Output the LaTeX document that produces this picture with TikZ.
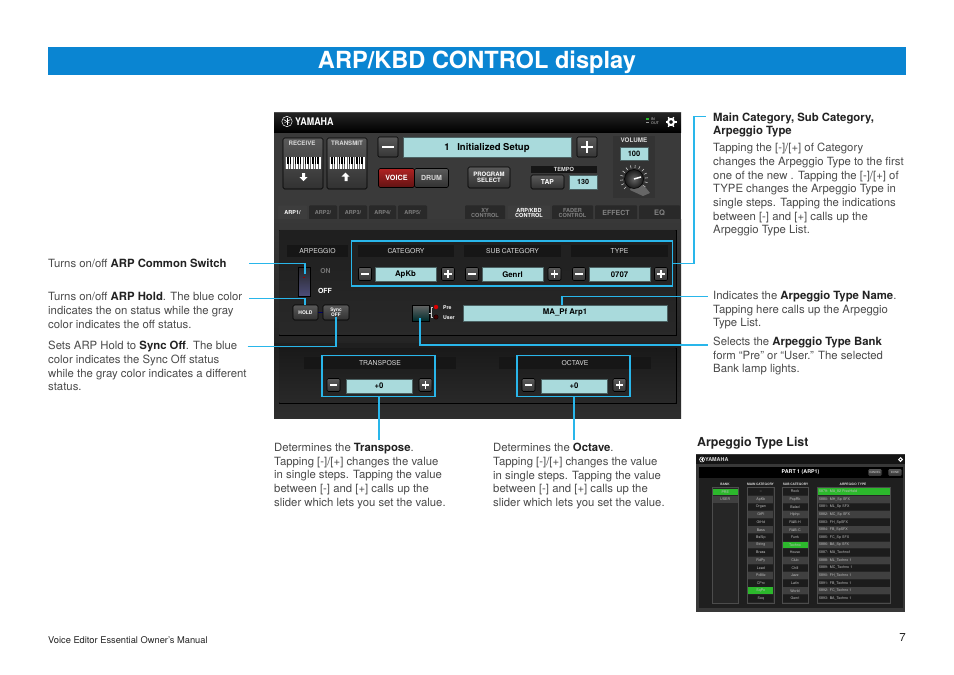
\documentclass[tikz,border=0pt]{standalone}
\usepackage{fontspec}
\usepackage{graphicx}
\setmainfont{TeX Gyre Heros}
\usetikzlibrary{calc}
\definecolor{yblue}{HTML}{0A85D2}
\definecolor{lead}{HTML}{29B6EA}
\definecolor{bodytxt}{HTML}{4A4A4A}
\definecolor{boldtxt}{HTML}{222222}
\definecolor{lcd}{HTML}{A9DADC}
\definecolor{panelg}{HTML}{3A3A3A}
\definecolor{inner}{HTML}{252525}
\definecolor{strip}{HTML}{161616}
\definecolor{uitxt}{HTML}{D8D8D8}
\definecolor{green1}{HTML}{2CB82C}
\definecolor{B}{HTML}{5A5A5A}
\definecolor{VR}{HTML}{B02222}
\definecolor{zebA}{HTML}{1C1C1C}
\definecolor{zebB}{HTML}{404040}
\tikzset{
 x=1pt,y=-1pt,
 note/.style={anchor=north west,inner sep=0pt,align=left,text=bodytxt,font=\fontsize{11.35}{13.7}\selectfont},
 leadline/.style={draw=lead,line width=1.25pt,line join=miter},
 frame/.style={draw=lead,line width=1.25pt,fill=none},
 btn/.style={draw=black,line width=.6pt,rounded corners=1.5pt,top color=#1,bottom color=#1!55!black,text=white,inner sep=0pt,align=center},
 btn/.default={B},
 lcdbox/.style={draw=lcd!45!black,line width=.8pt,fill=lcd,text=black,inner sep=0pt,font=\bfseries\fontsize{7.8}{9}\selectfont},
 striplab/.style={fill=strip,text=uitxt,inner sep=0pt,font=\fontsize{6.8}{7}\selectfont},
 uilab/.style={inner sep=0pt,text=uitxt},
 tab/.style={fill=#1,inner sep=0pt,rounded corners=1pt,align=center,font=\bfseries\fontsize{5.6}{5}\selectfont},
 cell/.style={fill=#1,inner sep=0pt,text=white!75!black,minimum height=6.8pt,font=\fontsize{3.6}{3.8}\selectfont},
}
% minus / plus button: name, cx, cy, size
\newcommand{\minusbtn}[4]{\node[draw=black,line width=.6pt,rounded corners=1.2pt,top color=B,bottom color=B!60!black,minimum width=#4pt,minimum height=#4pt,inner sep=0pt] (#1) at (#2,#3) {};
 \fill[white] ($(#1)+(-#4*.3,-#4*.07)$) rectangle ($(#1)+(#4*.3,#4*.07)$);}
\newcommand{\plusbtn}[4]{\node[draw=black,line width=.6pt,rounded corners=1.2pt,top color=B,bottom color=B!60!black,minimum width=#4pt,minimum height=#4pt,inner sep=0pt] (#1) at (#2,#3) {};
 \fill[white] ($(#1)+(-#4*.3,-#4*.07)$) rectangle ($(#1)+(#4*.3,#4*.07)$);
 \fill[white] ($(#1)+(-#4*.07,-#4*.3)$) rectangle ($(#1)+(#4*.07,#4*.3)$);}
% keyboard strip: left x, top y
\newcommand{\keys}[2]{\fill[white] (#1,#2) rectangle ++(35,12);
 \foreach \k in {0,...,13}{\draw[black!60,line width=.3pt] (#1+2.5*\k,#2) -- ++(0,12);}
 \foreach \k in {1,2,4,5,6,8,9,11,12,13}{\fill[black] (#1+2.5*\k-.8,#2) rectangle ++(1.6,7);}}
% yamaha emblem
\newcommand{\emblem}[3]{\draw[white,line width=.5pt] (#1,#2) circle (#3);
 \foreach \a in {90,210,330}{\draw[white,line width=.6pt] (#1,#2) -- ++(\a:#3*.75);}
 \foreach \a in {30,150,270}{\draw[white,line width=.3pt] (#1,#2) -- ++(\a:#3*.6);}}
\begin{document}
\begin{tikzpicture}
\useasboundingbox (0,0) rectangle (954,675);
\fill[white] (0,0) rectangle (954,675);
% title bar
\node[fill=yblue,minimum width=858pt,minimum height=28pt,inner sep=0pt,anchor=north west,text=white] (title) at (48,47) {};
\node[text=white,inner sep=0pt,font=\bfseries\fontsize{23.6}{26}\selectfont] (titletext) at (477,62.3) {ARP/KBD CONTROL display};
% ---------- main screenshot
\fill[panelg] (274,112) rectangle (681,418);
\shade[top color=black!85,bottom color=black] (274,112) rectangle (681,132);
\fill[white!30!black] (274,112) rectangle (681,113);
\emblem{287}{121.5}{5.2}
\node[uilab,text=white,font=\bfseries\fontsize{10.5}{11}\selectfont,anchor=west] (ylogo) at (295,122) {\scalebox{.85}[1]{YAMAHA}};
\fill[green1] (646,118) rectangle (649,120);
\fill[white!60!black] (646,122) rectangle (649,123);
\node[uilab,font=\fontsize{3.6}{3}\selectfont,anchor=west] (inlab) at (651,119) {IN};
\node[uilab,font=\fontsize{3.6}{3}\selectfont,anchor=west] (outlab) at (651,123) {OUT};
\draw[white,line width=2pt] (671,122) circle (3);
\foreach \a in {0,60,...,300}{\draw[white,line width=1.4pt] (671,122) ++(\a:3.5) -- ++(\a:2);}
% receive / transmit
\node[btn,minimum width=40pt,minimum height=51pt] (receive) at (303,163.5) {};
\node[btn,minimum width=40pt,minimum height=51pt] (transmit) at (347,163.5) {};
\node[uilab,font=\bfseries\fontsize{6.1}{6}\selectfont] (rlab) at (302,143.5) {RECEIVE};
\node[uilab,font=\bfseries\fontsize{6.1}{6}\selectfont] (tlab) at (347,143.5) {TRANSMIT};
\keys{285.5}{157}
\keys{329.5}{157}
\fill[white] (302,173) rectangle (305,177) (299.5,177) -- (307.5,177) -- (303.5,181) -- cycle;
\fill[white] (344.5,176.5) rectangle (347.5,181) (341.5,176.5) -- (349.5,176.5) -- (345.5,172.5) -- cycle;
% program
\minusbtn{pminus}{388}{147}{20}
\node[lcdbox,minimum width=168pt,minimum height=20pt,font=\bfseries\fontsize{9.5}{10}\selectfont] (pname) at (487,147.5) {1\hspace{.8em}Initialized Setup};
\plusbtn{pplus}{587}{147}{20}
% voice / drum
\node[btn=VR,minimum width=36pt,minimum height=19pt,font=\bfseries\fontsize{7.2}{8}\selectfont] (voice) at (396.5,178) {VOICE};
\node[btn,minimum width=34pt,minimum height=19pt,font=\bfseries\fontsize{7}{8}\selectfont,text=uitxt] (drum) at (431.5,178) {DRUM};
\node[btn,minimum width=42pt,minimum height=21pt,font=\bfseries\fontsize{6}{6.2}\selectfont] (psel) at (489,177.5) {PROGRAM\\SELECT};
% tempo
\node[striplab,font=\bfseries\fontsize{5.7}{6}\selectfont,minimum width=66pt,minimum height=7pt] (tempo) at (564,169) {TEMPO};
\node[btn,minimum width=33pt,minimum height=14pt,font=\bfseries\fontsize{6.8}{7}\selectfont] (tap) at (547.5,182) {TAP};
\node[lcdbox,minimum width=28pt,minimum height=14pt,font=\bfseries\fontsize{7.2}{8}\selectfont] (tempov) at (583,182) {130};
% volume
\fill[black!80] (613,136) rectangle (655,198);
\node[uilab,font=\bfseries\fontsize{6.3}{6.5}\selectfont] (vollab) at (634,140.5) {VOLUME};
\node[lcdbox,minimum width=28pt,minimum height=13pt,font=\bfseries\fontsize{7.5}{8}\selectfont] (volv) at (634,154) {100};
\foreach \a in {-225,-205,...,45}{\draw[white!80!black,line width=.6pt] (634,179) ++(\a:11) -- ++(\a:3);}
\fill[black!60] (634,179) -- (646,188) -- (650,193) -- (643,196) -- (630,190) -- cycle;
\node[circle,draw=black,line width=.5pt,inner color=black!60,outer color=black!90,minimum size=19pt,inner sep=0pt] (knob) at (634,179) {};
\draw[white,line width=1.5pt] (634,179) -- (641,177);
% tabs
\foreach \n/\xa/\w/\cc in {a1/292.5/29/black!76,a2/323/28/black!84,a3/353/28/black!84,a4/382.5/27/black!84,a5/412.5/29/black!84}{
 \node[tab=\cc,minimum width=\w pt,minimum height=14.5pt] (tab\n) at (\xa,212.5) {};}
\node[uilab,text=white,font=\bfseries\fontsize{5.5}{5}\selectfont] (t1) at (292.5,212.5) {ARP1/};
\node[uilab,text=black!50,font=\bfseries\fontsize{5.5}{5}\selectfont] (t2) at (323,212.5) {ARP2/};
\node[uilab,text=black!50,font=\bfseries\fontsize{5.5}{5}\selectfont] (t3) at (353,212.5) {ARP3/};
\node[uilab,text=black!50,font=\bfseries\fontsize{5.5}{5}\selectfont] (t4) at (382.5,212.5) {ARP4/};
\node[uilab,text=black!50,font=\bfseries\fontsize{5.5}{5}\selectfont] (t5) at (412.5,212.5) {ARP5/};
\node[tab=black!84,text=black!50,minimum width=40pt,minimum height=14.5pt] (txy) at (485,212.5) {XY\\CONTROL};
\node[tab=black!76,text=white,minimum width=42pt,minimum height=14.5pt] (tkbd) at (529,212.5) {ARP/KBD\\CONTROL};
\node[tab=black!84,text=black!50,minimum width=41pt,minimum height=14.5pt] (tfad) at (572.5,212.5) {FADER\\CONTROL};
\node[tab=black!84,text=black!50,minimum width=42pt,minimum height=14.5pt,font=\bfseries\fontsize{7}{7}\selectfont] (teff) at (616,212.5) {EFFECT};
\node[tab=black!84,text=black!50,minimum width=41pt,minimum height=14.5pt,font=\bfseries\fontsize{7.5}{7}\selectfont] (teq) at (659.5,212.5) {EQ};
% arp area
\shade[top color=black!78,bottom color=black!86] (274,219) rectangle (681,345);
\draw[black,line width=.5pt,fill=inner] (279,230) rectangle (676,335);
\shade[top color=black!88,bottom color=black!84] (279.3,230.3) rectangle (675.7,334.7);
\shade[top color=black!88,bottom color=black!82] (274,343) rectangle (681,418);
\draw[black,line width=.5pt,fill=strip] (279,348) rectangle (676,403);
\shade[top color=black!90,bottom color=black!84] (279.3,348.3) rectangle (675.7,402.7);
% strips
\node[striplab,minimum width=61pt,minimum height=12pt] (arplab) at (317.5,251) {ARPEGGIO};
\node[striplab,minimum width=96pt,minimum height=12pt] (catlab) at (406,251) {CATEGORY};
\node[striplab,minimum width=97pt,minimum height=12pt] (sublab) at (512.5,251) {SUB CATEGORY};
\node[striplab,minimum width=97pt,minimum height=12pt] (typlab) at (619.5,251) {TYPE};
% category row
\minusbtn{cm}{365}{274}{13}
\node[lcdbox,minimum width=61pt,minimum height=14pt] (catv) at (405.5,274.5) {ApKb};
\plusbtn{cp}{448}{274}{13}
\minusbtn{sm}{472}{274}{13}
\node[lcdbox,minimum width=61pt,minimum height=14pt] (subv) at (512.5,274.5) {Genrl};
\plusbtn{sp}{554.5}{274}{13}
\minusbtn{tm}{579}{274}{13}
\node[lcdbox,minimum width=61pt,minimum height=14pt] (typv) at (619.5,274.5) {0707};
\plusbtn{tp}{661}{274}{13}
% toggle
\node[draw=black,line width=1pt,top color=black!85,bottom color=blue!25!black!70,minimum width=12pt,minimum height=29pt,inner sep=0pt] (toggle) at (304,281.5) {};
\fill[red!60!black] (303.3,276.5) rectangle (305,277.5);
\node[uilab,text=black!55,font=\bfseries\fontsize{6.8}{7}\selectfont] (onlab) at (325.5,271.5) {ON};
\node[uilab,text=white,font=\bfseries\fontsize{7}{7}\selectfont] (offlab) at (325,291) {OFF};
% hold sync
\draw[blue!40!black,line width=.8pt] (318,312.5) -- (323,312.5);
\node[btn,minimum width=25pt,minimum height=15pt,font=\bfseries\fontsize{5}{5}\selectfont] (hold) at (305.5,312.5) {HOLD};
\node[btn,minimum width=26pt,minimum height=15pt,font=\bfseries\fontsize{4.8}{5}\selectfont] (sync) at (336,312.5) {Sync\\OFF};
% bank
\node[draw=black,line width=1pt,top color=black!60,bottom color=teal!35!black,minimum width=17pt,minimum height=16pt,inner sep=0pt] (bank) at (420.5,313) {};
\draw[white!80!black,line width=.4pt] (429,313) -- (431,313) (431,307) -- (431,317) (431,307) -- (433,307) (431,317) -- (433,317);
\node[circle,fill=red!85!black,minimum size=4.5pt,inner sep=0pt] (prelamp) at (436,307) {};
\node[circle,fill=red!25!black,draw=black,line width=.3pt,minimum size=4.5pt,inner sep=0pt] (userlamp) at (436,317) {};
\node[uilab,text=white,anchor=west,font=\bfseries\fontsize{5.2}{5}\selectfont] (prelab) at (443,307.5) {Pre};
\node[uilab,text=white,anchor=west,font=\bfseries\fontsize{5.2}{5}\selectfont] (userlab) at (443,317.5) {User};
\node[lcdbox,minimum width=204pt,minimum height=16pt] (namev) at (565,313) {MA\_Pf Arp1};
% transpose / octave
\node[striplab,minimum width=152pt,minimum height=11.5pt] (trlab) at (380,363) {TRANSPOSE};
\node[striplab,minimum width=152pt,minimum height=11.5pt] (oclab) at (575,363) {OCTAVE};
\minusbtn{trm}{333.5}{385}{13}
\node[lcdbox,minimum width=66pt,minimum height=14pt] (trv) at (379,386) {+0};
\plusbtn{trp}{425.5}{385}{13}
\minusbtn{ocm}{528.5}{385}{13}
\node[lcdbox,minimum width=66pt,minimum height=14pt] (ocv) at (574,386) {+0};
\plusbtn{ocp}{619.5}{385}{13}
% highlight frames
\node[frame,minimum width=321.5pt,minimum height=45pt,inner sep=0pt] (fcat) at (512,263.5) {};
\node[frame,minimum width=113pt,minimum height=41pt,inner sep=0pt] (ftr) at (378.5,376.3) {};
\node[frame,minimum width=113pt,minimum height=41pt,inner sep=0pt] (foc) at (573.5,376.3) {};
% ---------- notes
\node[note] (n1) at (48,258.7) {Turns on/off {\color{boldtxt}\bfseries ARP Common Switch}};
\node[note] (n2) at (48,292.3) {Turns on/off {\color{boldtxt}\bfseries ARP Hold}. The blue color\\indicates the on status while the gray\\color indicates the off status.};
\node[note] (n3) at (48,341) {Sets ARP Hold to {\color{boldtxt}\bfseries Sync Off}. The blue\\color indicates the Sync Off status\\while the gray color indicates a different\\status.};
\node[note,text=boldtxt,font=\bfseries\fontsize{11.35}{13.7}\selectfont] (n4h) at (713,112.5) {Main Category, Sub Category,\\Arpeggio Type};
\node[note] (n4) at (713,143) {Tapping the [-]/[+] of Category\\changes the Arpeggio Type to the first\\one of the new . Tapping the [-]/[+] of\\TYPE changes the Arpeggio Type in\\single steps. Tapping the indications\\between [-] and [+] calls up the\\Arpeggio Type List.};
\node[note] (n5) at (713,290.8) {Indicates the {\color{boldtxt}\bfseries Arpeggio Type Name}.\\Tapping here calls up the Arpeggio\\Type List.};
\node[note] (n6) at (713,336.8) {Selects the {\color{boldtxt}\bfseries Arpeggio Type Bank}\\form “Pre” or “User.” The selected\\Bank lamp lights.};
\node[note] (n7) at (274,443) {Determines the {\color{boldtxt}\bfseries Transpose}.\\Tapping [-]/[+] changes the value\\in single steps. Tapping the value\\between [-] and [+] calls up the\\slider which lets you set the value.};
\node[note] (n8) at (493,443) {Determines the {\color{boldtxt}\bfseries Octave}.\\Tapping [-]/[+] changes the value\\in single steps. Tapping the value\\between [-] and [+] calls up the\\slider which lets you set the value.};
\node[note,text=boldtxt,font=\bfseries\fontsize{12.4}{13}\selectfont] (listh) at (697,437.5) {Arpeggio Type List};
\node[note,text=boldtxt,font=\fontsize{9.3}{10}\selectfont] (foot) at (48,636) {Voice Editor Essential Owner’s Manual};
\node[note,text=boldtxt,font=\fontsize{11.5}{13}\selectfont,anchor=north east] (page) at (906,633) {7};
% ---------- connectors
\coordinate (c1) at (249,263.5);
\coordinate (c2) at (249,298.2);
\coordinate (c3) at (247.5,346.5);
\coordinate (c4) at (706,116.5);
\coordinate (c4b) at (694,116.5);
\coordinate (c5) at (707.5,296.5);
\coordinate (c6) at (707.5,345);
\coordinate (c7) at (379,440);
\coordinate (c8) at (574,440);
\draw[leadline] (c1) -- (305,263.5) -- (305,274);
\draw[leadline] (c2) -- (305,298.2) -- (305,0 |- hold.north);
\draw[leadline] (c3) -- (336,346.5) -- ($(sync.center)+(0,4)$);
\draw[leadline] (fcat.east) -- (694,263.5) -- (c4b) -- (c4);
\draw[leadline] (c5) -- (562,296.5) -- (562,0 |- namev.north);
\draw[leadline] (c6) -- (420,345) -- ($(420,0 |- bank.center)+(0,5)$);
\draw[leadline] (379,0 |- ftr.south) -- (c7);
\draw[leadline] (574,0 |- foc.south) -- (c8);
% ---------- arpeggio type list
\fill[black!78] (696,454) rectangle (905,612);
\fill[black!92] (696,455) rectangle (905,464);
\emblem{702}{459.5}{2.5}
\node[uilab,anchor=west,font=\bfseries\fontsize{5.4}{6}\selectfont] (ly) at (705,459.5) {YAMAHA};
\draw[white,line width=1pt] (900.5,459.5) circle (1.8);
\fill[black] (699,467) rectangle (903,478);
\node[uilab,text=white,font=\bfseries\fontsize{5.3}{6}\selectfont] (ltitle) at (800.5,472.5) {PART 1 (ARP1)};
\node[btn,minimum width=14pt,minimum height=8pt,text=uitxt,font=\fontsize{2.8}{3}\selectfont] (lcancel) at (875,472.5) {CANCEL};
\node[btn,minimum width=14pt,minimum height=8pt,text=uitxt,font=\fontsize{2.8}{3}\selectfont] (ldone) at (895,472.5) {DONE};
\fill[black!88] (699,478) rectangle (903,608);
\foreach \n/\t/\cx in {hb/BANK/725,hm/MAIN CATEGORY/760.5,hs/SUB CATEGORY/795.5,ht/ARPEGGIO TYPE/853}{
 \node[uilab,font=\bfseries\fontsize{3.2}{3.5}\selectfont] (\n) at (\cx,484) {\t};}
\draw[black!70,line width=.4pt,fill=black!85] (712,487) rectangle (738.5,603);
\draw[black!70,line width=.4pt,fill=black!85] (747.5,487) rectangle (774,603);
\draw[black!70,line width=.4pt,fill=black!85] (782,487) rectangle (808,603);
\draw[black!70,line width=.4pt,fill=black!85] (817,487) rectangle (890,603);
\node[cell=green1,minimum width=25pt] (bpre) at (725.2,492) {PRE};
\node[cell=zebB,minimum width=25pt] (buser) at (725.2,499.5) {USER};
\foreach \i/\m/\s/\t in {0/--/Rock/5879: MA\_82 FreeHeld,1/ApKb/PopRk/5880: MH\_Sp SFX,2/Organ/Balad/5881: ML\_Sp SFX,3/GtPl/Hiphp/5882: MC\_Sp SFX,4/GtHd/R\&B-H/5883: FH\_SpSFX,5/Bass/R\&B-C/5884: FB\_SpSFX,6/BsSlp/Funk/5885: FC\_Sp SFX,7/String/Techno/5886: BA\_Sp SFX,8/Brass/House/5887: MA\_Techno1,9/RdPy/Club/5888: ML\_Techno 1,10/Lead/Chill/5889: MC\_Techno 1,11/PdMe/Jazz/5890: FH\_Techno 1,12/CPrc/Latin/5891: FB\_Techno 1,13/SqPo/World/5892: FC\_Techno 1,14/Seq/Genrl/5893: BA\_Techno 1}{
 \pgfmathsetmacro{\ry}{491.7+7.62*\i}
 \pgfmathtruncatemacro{\odd}{mod(\i,2)}
 \ifnum\odd=0 \def\rc{zebA}\else\def\rc{zebB}\fi
 \ifnum\i=13 \def\mc{green1}\else\let\mc\rc\fi
 \ifnum\i=7 \def\sc{green1}\else\let\sc\rc\fi
 \ifnum\i=0 \def\tc{green1}\else\let\tc\rc\fi
 \node[cell=\mc,minimum width=25pt] (lm\i) at (760.8,\ry) {\m};
 \node[cell=\sc,minimum width=25pt] (ls\i) at (795,\ry) {\s};
 \node[cell=\tc,minimum width=72pt,text width=69pt] (lt\i) at (853.5,\ry) {\t};
}
\end{tikzpicture}
\end{document}
